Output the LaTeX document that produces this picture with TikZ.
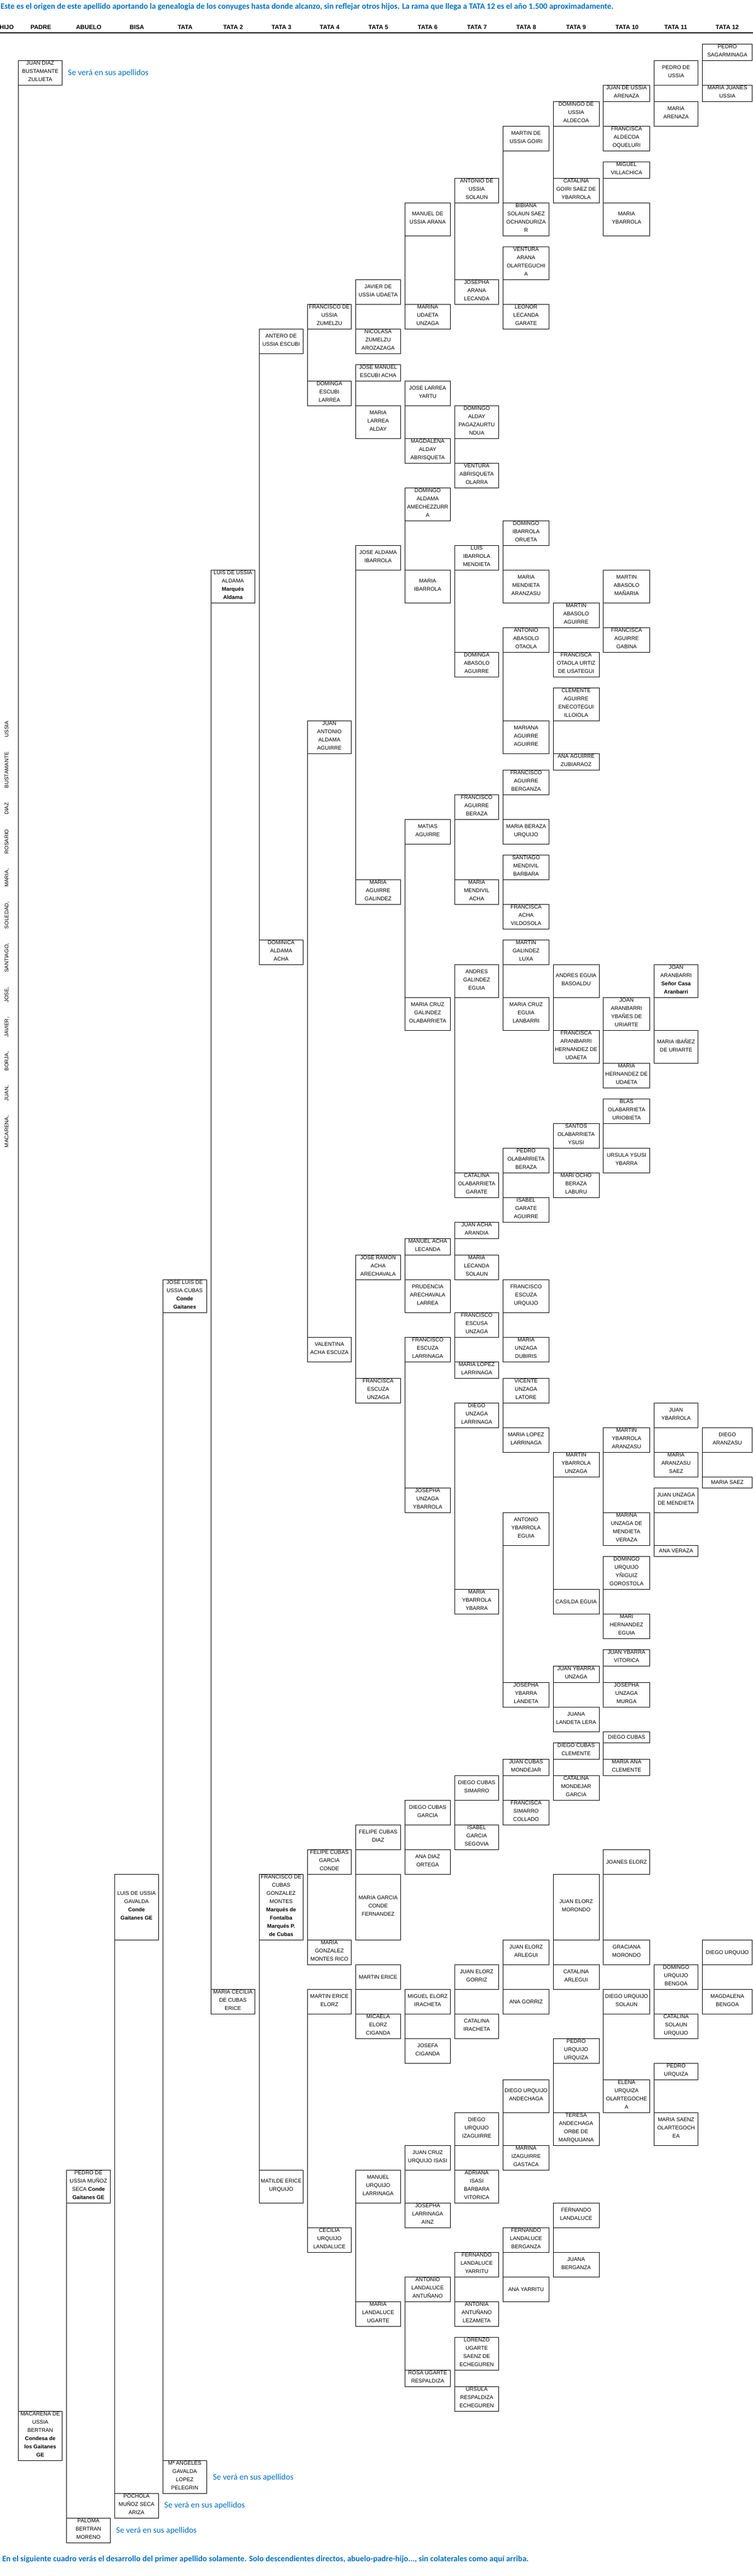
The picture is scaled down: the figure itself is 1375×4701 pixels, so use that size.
\documentclass[tikz,border=0pt]{standalone}
\usepackage{fontspec}
\setmainfont{Liberation Sans}
\newfontfamily\calfont{Carlito}
\definecolor{tblue}{RGB}{0,112,192}
\newcommand\st{\rule[-4pt]{0pt}{15pt}}
\def\colP{33.3}\def\wdP{80.4}
\def\colA{121.3}\def\wdA{80.4}
\def\colB{209.3}\def\wdB{80}
\def\colT{297.3}\def\wdT{80}
\def\colII{385.3}\def\wdII{80}
\def\colIII{473.4}\def\wdIII{80}
\def\colIV{561.5}\def\wdIV{79.9}
\def\colV{649.6}\def\wdV{81.7}
\def\colVI{739.5}\def\wdVI{82.8}
\def\colVII{830.5}\def\wdVII{79.9}
\def\colVIII{918.6}\def\wdVIII{84}
\def\colIX{1010}\def\wdIX{84}
\def\colX{1101.8}\def\wdX{84.6}
\def\colXI{1194.5}\def\wdXI{80}
\def\colXII{1282.6}\def\wdXII{91}
\newcommand\person[5]{\edef\pXc{\csname col#2\endcsname}\edef\pWc{\csname wd#2\endcsname}%
  \node[pbox, minimum width=\pWc pt, minimum height={(#4)-(#3)}] (#1) at (\pXc,#3) {#5};}
\newcommand\couple[2]{\draw[conn] (#1.south west) -- (#2.north west);}
\newcommand\sevtext{\resizebox{147pt}{!}{Se verá en sus apellidos}}
\begin{document}
\begin{tikzpicture}[x=1pt,y=-1pt,
  pbox/.style={draw, line width=0.9pt, inner sep=0pt, outer sep=0pt, anchor=north west, align=center,
    font=\fontsize{9.8}{15}\selectfont, execute at begin node=\st, execute at end node=\st},
  conn/.style={line width=0.9pt},
  hdr/.style={font=\bfseries\fontsize{11}{13}\selectfont, inner sep=0pt},
  sev/.style={anchor=west, inner sep=0pt, text=tblue, font=\calfont\fontsize{14.5}{16}\selectfont}]
\useasboundingbox (0,0) rectangle (1375,4701);
\fill[white] (0,0) rectangle (1375,4701);
% title
\node[anchor=west, inner sep=0pt, text=tblue, font=\calfont\bfseries\fontsize{14.5}{16}\selectfont] (title) at (1,13)
  {\resizebox{1119pt}{!}{Este es el origen de este apellido aportando la genealogia de los conyuges hasta donde alcanzo, sin reflejar otros hijos. La rama que llega a TATA 12 es el año 1.500 aproximadamente.}};
% header
\node[hdr] (hHIJO) at (12.3,50) {HIJO};
\node[hdr] (hPADRE) at (74.6,50) {PADRE};
\node[hdr] (hABUELO) at (162,50) {ABUELO};
\node[hdr] (hBISA) at (250,50) {BISA};
\node[hdr] (hTATA) at (338,50) {TATA};
\node[hdr] (hT2) at (425.6,50) {TATA 2};
\node[hdr] (hT3) at (514,50) {TATA 3};
\node[hdr] (hT4) at (602,50) {TATA 4};
\node[hdr] (hT5) at (691,50) {TATA 5};
\node[hdr] (hT6) at (781,50) {TATA 6};
\node[hdr] (hT7) at (871,50) {TATA 7};
\node[hdr] (hT8) at (961,50) {TATA 8};
\node[hdr] (hT9) at (1052,50) {TATA 9};
\node[hdr] (hT10) at (1145,50) {TATA 10};
\node[hdr] (hT11) at (1234,50) {TATA 11};
\node[hdr] (hT12) at (1328,50) {TATA 12};
\coordinate (ruleL) at (0,60);
\coordinate (ruleR) at (1375,60);
\draw[line width=1.2pt] (ruleL) -- (ruleR);
% children (vertical)
\node[rotate=90, inner sep=0pt, font=\fontsize{9.8}{12}\selectfont] (hijos) at (12.7,1705)
  {\makebox[778pt][s]{MACARENA, JUAN, BORJA, JAVIER, JOSE, SANTIAGO, SOLEDAD, MARIA, ROSARIO DIAZ BUSTAMANTE USSIA}};
% ---------------- left side
\person{jdb}{P}{110}{155}{JUAN DIAZ\\BUSTAMANTE\\ZULUETA}
\person{mac}{P}{4400}{4490}{MACARENA DE\\USSIA\\BERTRAN\\\textbf{Condesa de}\\\textbf{los Gaitanes}\\\textbf{GE}}
\person{pedro}{A}{3960}{4020}{PEDRO DE\\USSIA MUÑOZ\\SECA \textbf{Conde}\\\textbf{Gaitanes GE}}
\person{paloma}{A}{4595}{4640}{PALOMA\\BERTRAN\\MORENO}
\person{luisg}{B}{3420}{3540}{LUIS DE USSIA\\GAVALDA\\\textbf{Conde}\\\textbf{Gaitanes GE}}
\person{pochola}{B}{4550}{4595}{POCHOLA\\MUÑOZ SECA\\ARIZA}
\person{joseluis}{T}{2335}{2395}{JOSE LUIS DE\\USSIA CUBAS\\\textbf{Conde}\\\textbf{Gaitanes}}
\person{mangeles}{T}{4490}{4550}{Mª ANGELES\\GAVALDA\\LOPEZ\\PELEGRIN}
\person{luisa}{II}{1040}{1100}{LUIS DE USSIA\\ALDAMA\\\textbf{Marqués}\\\textbf{Aldama}}
\person{mcecilia}{II}{3630}{3675}{MARIA CECILIA\\DE CUBAS\\ERICE}
% ---------------- TATA 3
\person{antero}{III}{600}{645}{ANTERO DE\\USSIA ESCUBI}
\person{dominica}{III}{1715}{1760}{DOMINICA\\ALDAMA\\ACHA}
\person{fcubas}{III}{3420}{3540}{FRANCISCO DE\\CUBAS\\GONZALEZ\\MONTES\\\textbf{Marqués de}\\\textbf{Fontalba}\\\textbf{Marqués P.}\\\textbf{de Cubas}}
\person{matilde}{III}{3960}{4020}{MATILDE ERICE\\URQUIJO}
% ---------------- TATA 4
\person{fzumelzu}{IV}{555}{600}{FRANCISCO DE\\USSIA\\ZUMELZU}
\person{descubi}{IV}{695}{740}{DOMINGA\\ESCUBI\\LARREA}
\person{jaaldama}{IV}{1315}{1375}{JUAN\\ANTONIO\\ALDAMA\\AGUIRRE}
\person{valentina}{IV}{2440}{2485}{VALENTINA\\ACHA ESCUZA}
\person{fcgc}{IV}{3375}{3420}{FELIPE CUBAS\\GARCIA\\CONDE}
\person{mgmr}{IV}{3540}{3585}{MARIA\\GONZALEZ\\MONTES RICO}
\person{mee}{IV}{3630}{3675}{MARTIN ERICE\\ELORZ}
\person{cul}{IV}{4065}{4110}{CECILIA\\URQUIJO\\LANDALUCE}
% ---------------- TATA 5
\person{javier}{V}{510}{555}{JAVIER DE\\USSIA UDAETA}
\person{nicolasa}{V}{600}{645}{NICOLASA\\ZUMELZU\\AROZAZAGA}
\person{jmea}{V}{665}{695}{JOSE MANUEL\\ESCUBI ACHA}
\person{mla}{V}{740}{800}{MARIA\\LARREA\\ALDAY}
\person{jai}{V}{995}{1040}{JOSE ALDAMA\\IBARROLA}
\person{mag}{V}{1605}{1650}{MARIA\\AGUIRRE\\GALINDEZ}
\person{jraa}{V}{2290}{2335}{JOSE RAMON\\ACHA\\ARECHAVALA}
\person{feu}{V}{2515}{2560}{FRANCISCA\\ESCUZA\\UNZAGA}
\person{fcd}{V}{3330}{3375}{FELIPE CUBAS\\DIAZ}
\person{mgcf}{V}{3420}{3540}{MARIA GARCIA\\CONDE\\FERNANDEZ}
\person{merice}{V}{3585}{3630}{MARTIN ERICE}
\person{mec}{V}{3675}{3720}{MICAELA\\ELORZ\\CIGANDA}
\person{mul}{V}{3960}{4020}{MANUEL\\URQUIJO\\LARRINAGA}
\person{mlu}{V}{4200}{4245}{MARIA\\LANDALUCE\\UGARTE}
% ---------------- TATA 6
\person{manuel}{VI}{370}{430}{MANUEL DE\\USSIA ARANA}
\person{marina}{VI}{555}{600}{MARINA\\UDAETA\\UNZAGA}
\person{jly}{VI}{695}{740}{JOSE LARREA\\YARTU}
\person{maa}{VI}{800}{845}{MAGDALENA\\ALDAY\\ABRISQUETA}
\person{daa}{VI}{890}{950}{DOMINGO\\ALDAMA\\AMECHEZZURR\\A}
\person{mib}{VI}{1040}{1100}{MARIA\\IBARROLA}
\person{matias}{VI}{1495}{1540}{MATIAS\\AGUIRRE}
\person{mcgo}{VI}{1820}{1880}{MARIA CRUZ\\GALINDEZ\\OLABARRIETA}
\person{mal}{VI}{2260}{2290}{MANUEL ACHA\\LECANDA}
\person{pal}{VI}{2335}{2395}{PRUDENCIA\\ARECHAVALA\\LARREA}
\person{fel}{VI}{2440}{2485}{FRANCISCO\\ESCUZA\\LARRINAGA}
\person{juy}{VI}{2715}{2760}{JOSEPHA\\UNZAGA\\YBARROLA}
\person{dcg}{VI}{3285}{3330}{DIEGO CUBAS\\GARCIA}
\person{ado}{VI}{3375}{3420}{ANA DIAZ\\ORTEGA}
\person{mei}{VI}{3630}{3675}{MIGUEL ELORZ\\IRACHETA}
\person{jci}{VI}{3720}{3765}{JOSEFA\\CIGANDA}
\person{jcui}{VI}{3915}{3960}{JUAN CRUZ\\URQUIJO ISASI}
\person{jla}{VI}{4020}{4065}{JOSEPHA\\LARRINAGA\\AINZ}
\person{ala}{VI}{4155}{4200}{ANTONIO\\LANDALUCE\\ANTUÑANO}
\person{rur}{VI}{4325}{4355}{ROSA UGARTE\\RESPALDIZA}
% ---------------- TATA 7
\person{antonio}{VII}{325}{370}{ANTONIO DE\\USSIA\\SOLAUN}
\person{josepha}{VII}{510}{555}{JOSEPHA\\ARANA\\LECANDA}
\person{dap}{VII}{740}{800}{DOMINGO\\ALDAY\\PAGAZAURTU\\NDUA}
\person{vao}{VII}{845}{890}{VENTURA\\ABRISQUETA\\OLARRA}
\person{lim}{VII}{995}{1040}{LUIS\\IBARROLA\\MENDIETA}
\person{daba}{VII}{1190}{1235}{DOMINGA\\ABASOLO\\AGUIRRE}
\person{fab}{VII}{1450}{1495}{FRANCISCO\\AGUIRRE\\BERAZA}
\person{mma}{VII}{1605}{1650}{MARIA\\MENDIVIL\\ACHA}
\person{age}{VII}{1760}{1820}{ANDRES\\GALINDEZ\\EGUIA}
\person{cog}{VII}{2140}{2185}{CATALINA\\OLABARRIETA\\GARATE}
\person{jaa}{VII}{2230}{2260}{JUAN ACHA\\ARANDIA}
\person{mls}{VII}{2290}{2335}{MARIA\\LECANDA\\SOLAUN}
\person{feun}{VII}{2395}{2440}{FRANCISCO\\ESCUSA\\UNZAGA}
\person{mllb}{VII}{2485}{2515}{MARIA LOPEZ\\LARRINAGA}
\person{dul}{VII}{2560}{2605}{DIEGO\\UNZAGA\\LARRINAGA}
\person{myy}{VII}{2900}{2945}{MARIA\\YBARROLA\\YBARRA}
\person{dcs}{VII}{3240}{3285}{DIEGO CUBAS\\SIMARRO}
\person{igs}{VII}{3330}{3375}{ISABEL\\GARCIA\\SEGOVIA}
\person{jeg}{VII}{3585}{3630}{JUAN ELORZ\\GORRIZ}
\person{cir}{VII}{3675}{3720}{CATALINA\\IRACHETA}
\person{dui}{VII}{3855}{3915}{DIEGO\\URQUIJO\\IZAGUIRRE}
\person{aibv}{VII}{3960}{4020}{ADRIANA\\ISASI\\BARBARA\\VITORICA}
\person{fly}{VII}{4110}{4155}{FERNANDO\\LANDALUCE\\YARRITU}
\person{aal}{VII}{4200}{4245}{ANTONIA\\ANTUÑANO\\LEZAMETA}
\person{luse}{VII}{4265}{4325}{LORENZO\\UGARTE\\SAENZ DE\\ECHEGUREN}
\person{ure}{VII}{4355}{4400}{URSULA\\RESPALDIZA\\ECHEGUREN}
% ---------------- TATA 8
\person{martin}{VIII}{230}{275}{MARTIN DE\\USSIA GOIRI}
\person{bibiana}{VIII}{370}{430}{BIBIANA\\SOLAUN SAEZ\\OCHANDURIZA\\R}
\person{vaol}{VIII}{450}{510}{VENTURA\\ARANA\\OLARTEGUCHI\\A}
\person{llg}{VIII}{555}{600}{LEONOR\\LECANDA\\GARATE}
\person{dio}{VIII}{950}{995}{DOMINGO\\IBARROLA\\ORUETA}
\person{mmar}{VIII}{1040}{1100}{MARIA\\MENDIETA\\ARANZASU}
\person{aao}{VIII}{1145}{1190}{ANTONIO\\ABASOLO\\OTAOLA}
\person{maga}{VIII}{1315}{1375}{MARIANA\\AGUIRRE\\AGUIRRE}
\person{fabg}{VIII}{1405}{1450}{FRANCISCO\\AGUIRRE\\BERGANZA}
\person{mbu}{VIII}{1495}{1540}{MARIA BERAZA\\URQUIJO}
\person{smb}{VIII}{1560}{1605}{SANTIAGO\\MENDIVIL\\BARBARA}
\person{fav}{VIII}{1650}{1695}{FRANCISCA\\ACHA\\VILDOSOLA}
\person{mgl}{VIII}{1715}{1760}{MARTIN\\GALINDEZ\\LUXA}
\person{mcel}{VIII}{1820}{1880}{MARIA CRUZ\\EGUIA\\LANBARRI}
\person{pob}{VIII}{2095}{2140}{PEDRO\\OLABARRIETA\\BERAZA}
\person{iga}{VIII}{2185}{2230}{ISABEL\\GARATE\\AGUIRRE}
\person{feur}{VIII}{2335}{2395}{FRANCISCO\\ESCUZA\\URQUIJO}
\person{mud}{VIII}{2440}{2485}{MARIA\\UNZAGA\\DUBIRIS}
\person{vul}{VIII}{2515}{2560}{VICENTE\\UNZAGA\\LATORE}
\person{mllc}{VIII}{2605}{2650}{MARIA LOPEZ\\LARRINAGA}
\person{aye}{VIII}{2760}{2820}{ANTONIO\\YBARROLA\\EGUIA}
\person{jyl}{VIII}{3070}{3115}{JOSEPHA\\YBARRA\\LANDETA}
\person{jcm}{VIII}{3210}{3240}{JUAN CUBAS\\MONDEJAR}
\person{fsc}{VIII}{3285}{3330}{FRANCISCA\\SIMARRO\\COLLADO}
\person{jea}{VIII}{3540}{3585}{JUAN ELORZ\\ARLEGUI}
\person{agz}{VIII}{3630}{3675}{ANA GORRIZ}
\person{dua}{VIII}{3795}{3855}{DIEGO URQUIJO\\ANDECHAGA}
\person{mig}{VIII}{3915}{3960}{MARINA\\IZAGUIRRE\\GASTACA}
\person{flb}{VIII}{4065}{4110}{FERNANDO\\LANDALUCE\\BERGANZA}
\person{ayar}{VIII}{4155}{4200}{ANA YARRITU}
% ---------------- TATA 9
\person{domingo}{IX}{185}{230}{DOMINGO DE\\USSIA\\ALDECOA}
\person{catalina}{IX}{325}{370}{CATALINA\\GOIRI SAEZ DE\\YBARROLA}
\person{maag}{IX}{1100}{1145}{MARTIN\\ABASOLO\\AGUIRRE}
\person{foud}{IX}{1190}{1235}{FRANCISCA\\OTAOLA URTIZ\\DE USATEGUI}
\person{caei}{IX}{1255}{1315}{CLEMENTE\\AGUIRRE\\ENECOTEGUI\\ILLOIOLA}
\person{aaz}{IX}{1375}{1405}{ANA AGUIRRE\\ZUBIARAOZ}
\person{aeb}{IX}{1760}{1820}{ANDRES EGUIA\\BASOALDU}
\person{fahu}{IX}{1880}{1940}{FRANCISCA\\ARANBARRI\\HERNANDEZ DE\\UDAETA}
\person{soy}{IX}{2050}{2095}{SANTOS\\OLABARRIETA\\YSUSI}
\person{mobl}{IX}{2140}{2185}{MARI OCHO\\BERAZA\\LABURU}
\person{myu}{IX}{2650}{2695}{MARTIN\\YBARROLA\\UNZAGA}
\person{ceg}{IX}{2900}{2945}{CASILDA EGUIA}
\person{jyu}{IX}{3040}{3070}{JUAN YBARRA\\UNZAGA}
\person{jll}{IX}{3115}{3160}{JUANA\\LANDETA LERA}
\person{dcc}{IX}{3180}{3210}{DIEGO CUBAS\\CLEMENTE}
\person{cmg}{IX}{3240}{3285}{CATALINA\\MONDEJAR\\GARCIA}
\person{jem}{IX}{3420}{3540}{JUAN ELORZ\\MORONDO}
\person{carl}{IX}{3585}{3630}{CATALINA\\ARLEGUI}
\person{puu}{IX}{3720}{3765}{PEDRO\\URQUIJO\\URQUIZA}
\person{taom}{IX}{3855}{3915}{TERESA\\ANDECHAGA\\ORBE DE\\MARQUIJANA}
\person{flan}{IX}{4020}{4065}{FERNANDO\\LANDALUCE}
\person{jber}{IX}{4110}{4155}{JUANA\\BERGANZA}
% ---------------- TATA 10
\person{juan}{X}{155}{185}{JUAN DE USSIA\\ARENAZA}
\person{fao}{X}{230}{275}{FRANCISCA\\ALDECOA\\OQUELURI}
\person{miguel}{X}{295}{325}{MIGUEL\\VILLACHICA}
\person{myb}{X}{370}{430}{MARIA\\YBARROLA}
\person{mam}{X}{1040}{1100}{MARTIN\\ABASOLO\\MAÑARIA}
\person{fag}{X}{1145}{1190}{FRANCISCA\\AGUIRRE\\GABINA}
\person{jayu}{X}{1820}{1880}{JOAN\\ARANBARRI\\YBAÑES DE\\URIARTE}
\person{mhu}{X}{1940}{1985}{MARIA\\HERNANDEZ DE\\UDAETA}
\person{bou}{X}{2005}{2050}{BLAS\\OLABARRIETA\\URIOBIETA}
\person{uyy}{X}{2095}{2140}{URSULA YSUSI\\YBARRA}
\person{mya}{X}{2605}{2650}{MARTIN\\YBARROLA\\ARANZASU}
\person{mumv}{X}{2760}{2820}{MARINA\\UNZAGA DE\\MENDIETA\\VERAZA}
\person{duyg}{X}{2840}{2900}{DOMINGO\\URQUIJO\\YÑIGUIZ\\GOROSTOLA}
\person{mhe}{X}{2945}{2990}{MARI\\HERNANDEZ\\EGUIA}
\person{jyv}{X}{3010}{3040}{JUAN YBARRA\\VITORICA}
\person{jum}{X}{3070}{3115}{JOSEPHA\\UNZAGA\\MURGA}
\person{dcub}{X}{3160}{3180}{DIEGO CUBAS}
\person{macl}{X}{3210}{3240}{MARIA ANA\\CLEMENTE}
\person{joanes}{X}{3375}{3420}{JOANES ELORZ}
\person{gmor}{X}{3540}{3585}{GRACIANA\\MORONDO}
\person{dus}{X}{3630}{3675}{DIEGO URQUIJO\\SOLAUN}
\person{euo}{X}{3795}{3855}{ELENA\\URQUIZA\\OLARTEGOCHE\\A}
% ---------------- TATA 11
\person{pedrou}{XI}{110}{155}{PEDRO DE\\USSIA}
\person{marena}{XI}{185}{230}{MARIA\\ARENAZA}
\person{joanb}{XI}{1760}{1820}{JOAN\\ARANBARRI\\\textbf{Señor Casa}\\\textbf{Aranbarri}}
\person{miu}{XI}{1880}{1940}{MARIA IBAÑEZ\\DE URIARTE}
\person{jyb}{XI}{2560}{2605}{JUAN\\YBARROLA}
\person{mas}{XI}{2650}{2695}{MARIA\\ARANZASU\\SAEZ}
\person{jumd}{XI}{2715}{2760}{JUAN UNZAGA\\DE MENDIETA}
\person{aver}{XI}{2820}{2840}{ANA VERAZA}
\person{dub}{XI}{3585}{3630}{DOMINGO\\URQUIJO\\BENGOA}
\person{csu}{XI}{3675}{3720}{CATALINA\\SOLAUN\\URQUIJO}
\person{purq}{XI}{3765}{3795}{PEDRO\\URQUIZA}
\person{mso}{XI}{3855}{3915}{MARIA SAENZ\\OLARTEGOCH\\EA}
% ---------------- TATA 12
\person{psag}{XII}{80}{110}{PEDRO\\SAGARMINAGA}
\person{mju}{XII}{155}{185}{MARIA JUANES\\USSIA}
\person{dara}{XII}{2605}{2650}{DIEGO\\ARANZASU}
\person{msaez}{XII}{2695}{2715}{MARIA SAEZ}
\person{durq}{XII}{3540}{3585}{DIEGO URQUIJO}
\person{mben}{XII}{3630}{3675}{MAGDALENA\\BENGOA}
% ---------------- couples
\couple{jdb}{mac}
\couple{pedro}{paloma}
\couple{luisg}{pochola}
\couple{joseluis}{mangeles}
\couple{luisa}{mcecilia}
\couple{antero}{dominica}
\couple{fcubas}{matilde}
\couple{fzumelzu}{descubi}
\couple{jaaldama}{valentina}
\couple{fcgc}{mgmr}
\couple{mee}{cul}
\couple{javier}{nicolasa}
\couple{jmea}{mla}
\couple{jai}{mag}
\couple{jraa}{feu}
\couple{fcd}{mgcf}
\couple{merice}{mec}
\couple{mul}{mlu}
\couple{manuel}{marina}
\couple{jly}{maa}
\couple{daa}{mib}
\couple{matias}{mcgo}
\couple{mal}{pal}
\couple{fel}{juy}
\couple{dcg}{ado}
\couple{mei}{jci}
\couple{jcui}{jla}
\couple{ala}{rur}
\couple{antonio}{josepha}
\couple{dap}{vao}
\couple{lim}{daba}
\couple{fab}{mma}
\couple{age}{cog}
\couple{jaa}{mls}
\couple{feun}{mllb}
\couple{dul}{myy}
\couple{dcs}{igs}
\couple{jeg}{cir}
\couple{dui}{aibv}
\couple{fly}{aal}
\couple{luse}{ure}
\couple{martin}{bibiana}
\couple{vaol}{llg}
\couple{dio}{mmar}
\couple{aao}{maga}
\couple{fabg}{mbu}
\couple{smb}{fav}
\couple{mgl}{mcel}
\couple{pob}{iga}
\couple{feur}{mud}
\couple{vul}{mllc}
\couple{aye}{jyl}
\couple{jcm}{fsc}
\couple{jea}{agz}
\couple{dua}{mig}
\couple{flb}{ayar}
\couple{domingo}{catalina}
\couple{maag}{foud}
\couple{caei}{aaz}
\couple{aeb}{fahu}
\couple{soy}{mobl}
\couple{myu}{ceg}
\couple{jyu}{jll}
\couple{dcc}{cmg}
\couple{jem}{carl}
\couple{puu}{taom}
\couple{flan}{jber}
\couple{juan}{fao}
\couple{miguel}{myb}
\couple{mam}{fag}
\couple{jayu}{mhu}
\couple{bou}{uyy}
\couple{mya}{mumv}
\couple{duyg}{mhe}
\couple{jyv}{jum}
\couple{dcub}{macl}
\couple{joanes}{gmor}
\couple{dus}{euo}
\couple{pedrou}{marena}
\couple{joanb}{miu}
\couple{jyb}{mas}
\couple{jumd}{aver}
\couple{dub}{csu}
\couple{purq}{mso}
\couple{psag}{mju}
\couple{dara}{msaez}
\couple{durq}{mben}
% ---------------- notes
\node[sev] (sv1) at (124,133) {\sevtext};
\node[sev] (sv2) at (388.7,4521) {\sevtext};
\node[sev] (sv3) at (300,4572) {\sevtext};
\node[sev] (sv4) at (212,4618) {\sevtext};
\node[anchor=west, inner sep=0pt, text=tblue, font=\calfont\bfseries\fontsize{14.5}{16}\selectfont] (foot) at (4,4670)
  {\resizebox{961pt}{!}{En el siguiente cuadro verás el desarrollo del primer apellido solamente. Solo descendientes directos, abuelo-padre-hijo..., sin colaterales como aquí arriba.}};
\end{tikzpicture}
\end{document}
